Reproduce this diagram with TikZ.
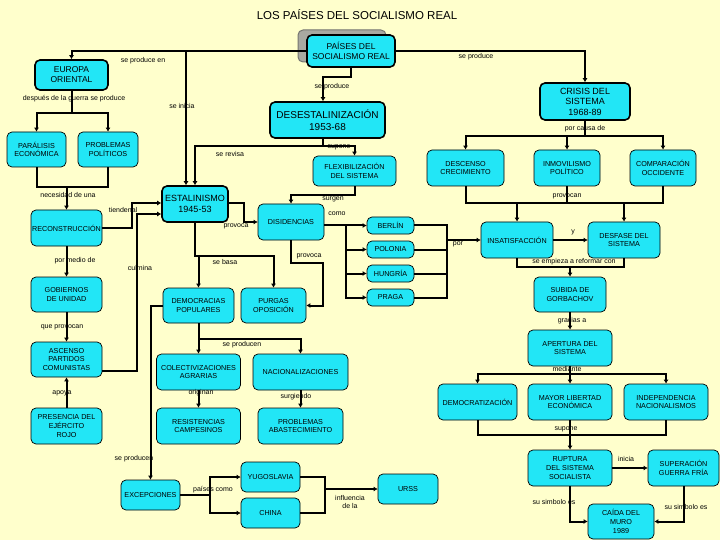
\documentclass[tikz,border=0pt]{standalone}
\usepackage{fontspec}
\setmainfont{Liberation Sans}
\usetikzlibrary{arrows.meta,calc,positioning}
\definecolor{Paper}{HTML}{FFFFCC}
\definecolor{Cyan}{HTML}{22E6F6}
\definecolor{Shade}{HTML}{A9A9A1}

\begin{document}
\begin{tikzpicture}[x=1pt,y=-1pt,
    box/.style={draw,rounded corners=5pt,fill=Cyan,line width=.7pt,align=center,inner sep=1pt,font=\fontsize{7.2}{8.8}\selectfont},
    hbox/.style={box,line width=1.6pt},
    sz/.style 2 args={minimum width=#1pt,minimum height=#2pt},
    lbl/.style={font=\fontsize{7}{8}\selectfont,inner sep=0pt,align=center},
    lnk/.style={line width=2pt},
    arr/.style={lnk,-{Latex[length=4pt,width=5pt]}}]
    \fill[Paper] (0,0) rectangle (720,540);
    \useasboundingbox (0,0) rectangle (720,540);
    \node[font=\fontsize{11.5}{13}\selectfont] (title) at (357,15) {LOS PAÍSES DEL SOCIALISMO REAL};
    % boxes
    \node[box,sz={88}{32},fill=Shade,draw=Shade!70!black,line width=1pt] (sombra) at (342,46) {};
    \node[hbox,sz={88}{32},font=\fontsize{8.5}{10}\selectfont] (paises) at (351,51) {PAÍSES DEL\\SOCIALISMO REAL};
    \node[hbox,sz={73}{30},font=\fontsize{8.5}{10}\selectfont] (europa) at (71.5,75) {EUROPA\\ORIENTAL};
    \node[hbox,sz={115}{36},font=\fontsize{10}{12}\selectfont] (deses) at (327.5,120) {DESESTALINIZACIÓN\\1953-68};
    \node[hbox,sz={90}{37},font=\fontsize{9}{10.5}\selectfont] (crisis) at (585,101.5) {CRISIS DEL\\SISTEMA\\1968-89};
    \node[box,sz={59}{35}] (paralisis) at (36.5,149.5) {PARÁLISIS\\ECONÓMICA};
    \node[box,sz={60}{35}] (problemas) at (108,149.5) {PROBLEMAS\\POLÍTICOS};
    \node[box,sz={83}{30}] (flex) at (354.5,171) {FLEXIBILIZACIÓN\\DEL SISTEMA};
    \node[box,sz={77}{36}] (descenso) at (465.5,168) {DESCENSO\\CRECIMIENTO};
    \node[box,sz={66}{36}] (inmov) at (567,168) {INMOVILISMO\\POLÍTICO};
    \node[box,sz={66}{36}] (compar) at (663,168) {COMPARACIÓN\\OCCIDENTE};
    \node[box,sz={71}{36}] (reconst) at (66.5,228) {RECONSTRUCCIÓN};
    \node[hbox,sz={66}{36},font=\fontsize{9}{11}\selectfont] (estal) at (195,204) {ESTALINISMO\\1945-53};
    \node[box,sz={66}{36}] (disid) at (291,222) {DISIDENCIAS};
    \node[box,sz={47}{17}] (berlin) at (390.5,225.5) {BERLÍN};
    \node[box,sz={47}{17}] (polonia) at (390.5,249.5) {POLONIA};
    \node[box,sz={47}{17}] (hungria) at (390.5,273.5) {HUNGRÍA};
    \node[box,sz={47}{17}] (praga) at (390.5,297.5) {PRAGA};
    \node[box,sz={72}{36}] (insat) at (517,240) {INSATISFACCIÓN};
    \node[box,sz={72}{36}] (desfase) at (624,240) {DESFASE DEL\\SISTEMA};
    \node[box,sz={72}{35}] (subida) at (570,294.5) {SUBIDA DE\\GORBACHOV};
    \node[box,sz={71}{35}] (gobiernos) at (66.5,294.5) {GOBIERNOS\\DE UNIDAD};
    \node[box,sz={71}{35}] (democr) at (198.5,305.5) {DEMOCRACIAS\\POPULARES};
    \node[box,sz={65}{35}] (purgas) at (273.5,305.5) {PURGAS\\OPOSICIÓN};
    \node[box,sz={84}{36}] (apertura) at (570,348) {APERTURA DEL\\SISTEMA};
    \node[box,sz={71}{35}] (ascenso) at (66.5,359.5) {ASCENSO\\PARTIDOS\\COMUNISTAS};
    \node[box,sz={84}{36}] (colect) at (198.5,372) {COLECTIVIZACIONES\\AGRARIAS};
    \node[box,sz={95}{36}] (nacion) at (300.5,372) {NACIONALIZACIONES};
    \node[box,sz={79}{36}] (democrat) at (477.5,402) {DEMOCRATIZACIÓN};
    \node[box,sz={84}{36}] (mayor) at (570,402) {MAYOR LIBERTAD\\ECONÓMICA};
    \node[box,sz={84}{36}] (indep) at (666,402) {INDEPENDENCIA\\NACIONALISMOS};
    \node[box,sz={71}{36}] (presencia) at (66.5,426) {PRESENCIA DEL\\EJÉRCITO\\ROJO};
    \node[box,sz={84}{36}] (resist) at (198.5,426) {RESISTENCIAS\\CAMPESINOS};
    \node[box,sz={85}{36}] (problabast) at (300.5,426) {PROBLEMAS\\ABASTECIMIENTO};
    \node[box,sz={84}{36}] (ruptura) at (570,468) {RUPTURA\\DEL SISTEMA\\SOCIALISTA};
    \node[box,sz={71}{36}] (superac) at (683.5,468) {SUPERACIÓN\\GUERRA FRÍA};
    \node[box,sz={59}{30}] (excep) at (150.5,495) {EXCEPCIONES};
    \node[box,sz={59}{30}] (yugo) at (270.5,477) {YUGOSLAVIA};
    \node[box,sz={59}{30}] (china) at (270.5,513) {CHINA};
    \node[box,sz={60}{30}] (urss) at (408,489) {URSS};
    \node[box,sz={66}{35}] (caida) at (621,521.5) {CAÍDA DEL\\MURO\\1989};
    % connectors, upper part
    \draw[arr] (paises.west) -| (europa.north); \draw[arr] (paises.west) -| ([xshift=-9pt]estal.north);
    \draw[arr] (paises.east) -| (crisis.north);
    \draw[arr] (paises.south) -- ++(0,9) -| ([xshift=-4.5pt]deses.north);
    \draw[arr] ([xshift=-4.5pt]deses.south) -- ++(0,7) -| (flex.north);
    \draw[arr] ([xshift=-4.5pt]deses.south) -- ++(0,7) -| (estal.north);
    \foreach \n in {descenso,inmov,compar} \draw[arr] (crisis.south) -- ++(0,15) -| (\n.north);
    \draw[lnk] (descenso.south) -- ++(0,17) -| (compar.south) (inmov.south) -- ++(0,17);
    \draw[arr] ([yshift=-17pt]descenso.south) -| (insat.north); \draw[arr] ([yshift=-17pt]compar.south) -| (desfase.north);
    \draw[arr] (insat) -- (desfase);
    \draw[lnk] (insat.south) -- ++(0,9) -| (desfase.south);
    \draw[arr] ([yshift=-9pt]insat.south) -| (subida.north);
    \draw[arr] (subida) -- (apertura);
    \foreach \n in {democrat,mayor,indep} \draw[arr] (apertura.south) -- ++(0,8) -| (\n.north);
    \draw[lnk] (democrat.south) -- ++(0,15) -| (indep.south);
    \draw[arr] (mayor) -- (ruptura); \draw[arr] (ruptura) -- (superac);
    \draw[arr] (ruptura.south) |- (caida.west); \draw[arr] (superac.south) |- (caida.east);
    % connectors, left part
    \foreach \n in {paralisis,problemas} \draw[arr] (europa.south) -- ++(0,22) -| (\n.north);
    \draw[lnk] (paralisis.south) -- ++(0,20) -| (problemas.south);
    \draw[arr] ([yshift=-20pt]paralisis.south) -| (reconst.north);
    \draw[arr] (reconst.east) -- ++(30,0) |- ([yshift=1pt]estal.west);
    \draw[arr] (reconst) -- (gobiernos); \draw[arr] (gobiernos) -- (ascenso); \draw[arr] (presencia) -- (ascenso);
    \draw[arr] ([yshift=-11.5pt]ascenso.east) -- ++(35,0) |- ([yshift=-10pt]estal.west);
    \draw[arr] ([yshift=1pt]estal.east) -- ++(15,0) |- (disid.west);
    \draw[arr] (flex.south) -- ++(0,9) -| (disid.north);
    \draw[arr] ([yshift=-3.5pt]disid.east) -- (berlin.west);
    \foreach \n in {polonia,hungria,praga} \draw[arr] ([yshift=-3.5pt]disid.east) -- ++(22,0) |- (\n.west);
    \foreach \n in {berlin,polonia,hungria,praga} \draw[lnk] (\n.east) -| ([xshift=-34pt]insat.west);
    \draw[arr] ([xshift=-34pt]insat.west) -- (insat.west);
    \draw[arr] (disid.south) -- ++(0,23) -- ++(32,0) |- (purgas.east);
    \foreach \n in {democr,purgas} \draw[arr] (estal.south) -- ++(0,33) -| (\n.north);
    \foreach \n in {colect,nacion} \draw[arr] (democr.south) -- ++(0,16) -| (\n.north);
    \draw[arr] (democr.west) -| (excep.north);
    \draw[arr] (colect) -- (resist); \draw[arr] (nacion) -- (problabast);
    \foreach \n in {yugo,china} \draw[arr] (excep.east) -- ++(30,0) |- (\n.west);
    \draw[lnk] (yugo.east) -- ++(25,0) |- (china.east);
    \draw[arr] ([xshift=25pt]yugo.east |- urss.west) -- (urss.west);
    % labels
    \node[lbl] (l1) at (143,61) {se produce en};
    \node[lbl] (l2) at (182,106) {se inicia};
    \node[lbl] (l3) at (332,87) {se produce};
    \node[lbl] (l4) at (476,57) {se produce};
    \node[lbl] (l5) at (74,99) {después de la guerra se produce};
    \node[lbl] (l6) at (230,154) {se revisa};
    \node[lbl] (l7) at (339,147) {supone};
    \node[lbl] (l8) at (585,129) {por causa de};
    \node[lbl] (l9) at (567,196) {provocan};
    \node[lbl] (l10) at (573,232) {y};
    \node[lbl] (l11) at (458,244) {por};
    \node[lbl] (l12) at (574,262) {se empieza a reformar con};
    \node[lbl] (l13) at (572,321) {gracias a};
    \node[lbl] (l14) at (567,369) {mediante};
    \node[lbl] (l15) at (566,429) {supone};
    \node[lbl] (l16) at (626,459) {inicia};
    \node[lbl] (l17) at (554,502) {su simbolo es};
    \node[lbl] (l18) at (686,507) {su simbolo es};
    \node[lbl] (l19) at (68,195) {necesidad de una};
    \node[lbl] (l20) at (123,210) {tiendenal};
    \node[lbl] (l21) at (75,261) {por medio de};
    \node[lbl] (l22) at (140,268) {culmina};
    \node[lbl] (l23) at (62,327) {que provocan};
    \node[lbl] (l24) at (62,393) {apoya};
    \node[lbl] (l25) at (236,226) {provoca};
    \node[lbl] (l26) at (333,199) {surgen};
    \node[lbl] (l27) at (337,214) {como};
    \node[lbl] (l28) at (309,256) {provoca};
    \node[lbl] (l29) at (225,262) {se basa};
    \node[lbl] (l30) at (242,345) {se producen};
    \node[lbl] (l31) at (134,459) {se producen};
    \node[lbl] (l32) at (201,393) {originan};
    \node[lbl] (l33) at (296,397) {surgiendo};
    \node[lbl] (l34) at (213,490) {países como};
    \node[lbl] (l35) at (350,502) {influencia\\de la};
  \end{tikzpicture}
\end{document}
